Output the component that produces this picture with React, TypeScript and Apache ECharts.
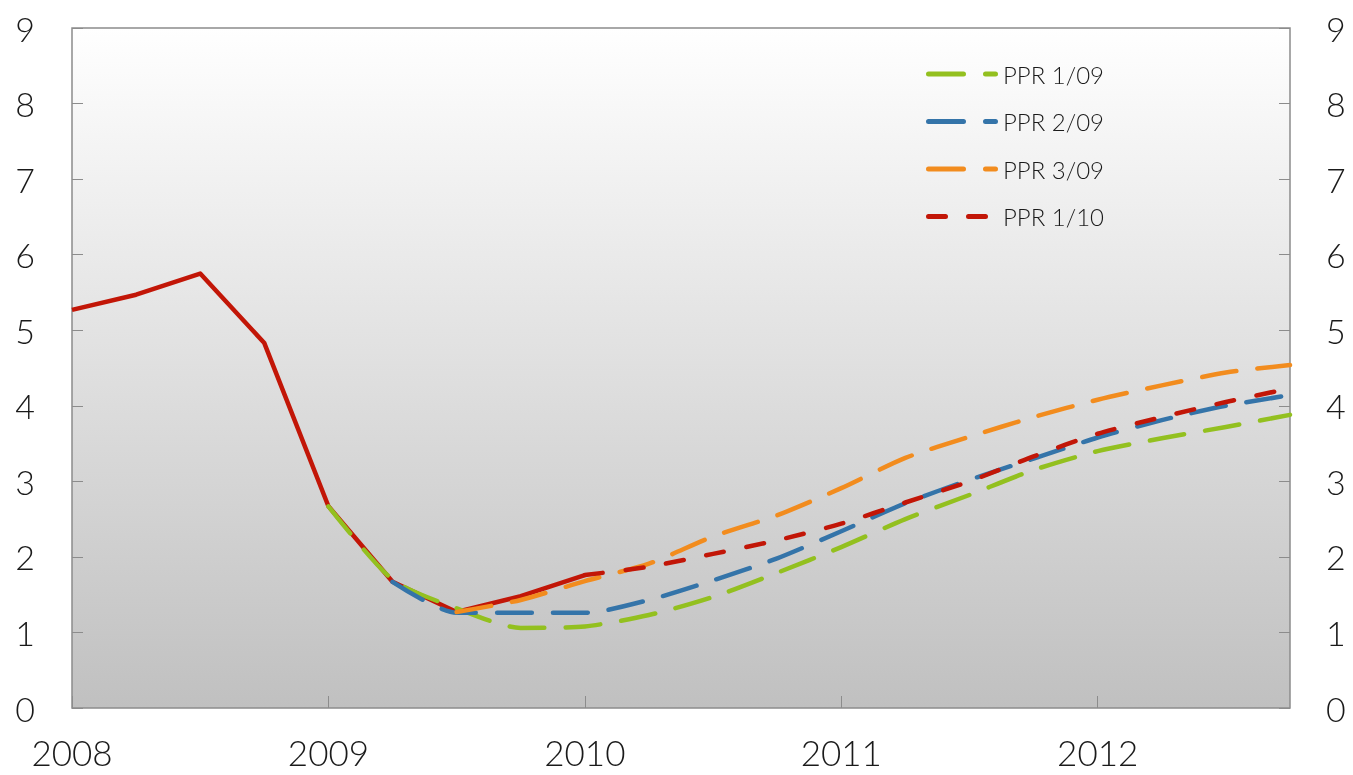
import React, { useEffect, useRef } from "react";
import * as echarts from "echarts";

const quarters = [
  "2008K1", "2008K2", "2008K3", "2008K4",
  "2009K1", "2009K2", "2009K3", "2009K4",
  "2010K1", "2010K2", "2010K3", "2010K4",
  "2011K1", "2011K2", "2011K3", "2011K4",
  "2012K1", "2012K2", "2012K3", "2012K4",
];

const actual = [5.27, 5.47, 5.75, 4.83, 2.67, 1.67, 1.27, 1.48, 1.76, null, null, null, null, null, null, null, null, null, null, null];
const ppr109 = [null, null, null, null, 2.67, 1.7, 1.32, 1.06, 1.08, 1.23, 1.47, 1.79, 2.13, 2.5, 2.82, 3.15, 3.4, 3.57, 3.72, 3.88];
const ppr209 = [null, null, null, null, null, 1.67, 1.26, 1.26, 1.26, 1.43, 1.69, 1.98, 2.34, 2.71, 3.02, 3.3, 3.58, 3.81, 4.0, 4.14];
const ppr309 = [null, null, null, null, null, null, 1.27, 1.43, 1.68, 1.91, 2.27, 2.55, 2.91, 3.31, 3.59, 3.85, 4.08, 4.27, 4.44, 4.54];
const ppr110 = [null, null, null, null, null, null, null, null, 1.76, 1.87, 2.04, 2.22, 2.44, 2.72, 3.0, 3.33, 3.63, 3.85, 4.05, 4.23];

const legendNames = ["PPR 1/09", "PPR 2/09", "PPR 3/09", "PPR 1/10"];

const FONT = "Lato, 'Open Sans', sans-serif";

// legend icons drawn in a 72 x 5 box
const longShortIcon =
  "path://M2.5 0 H37.5 A2.5 2.5 0 0 1 37.5 5 H2.5 A2.5 2.5 0 0 1 2.5 0 Z M59.5 0 H69.5 A2.5 2.5 0 0 1 69.5 5 H59.5 A2.5 2.5 0 0 1 59.5 0 Z";
const shortShortIcon =
  "path://M2.5 0 H19.5 A2.5 2.5 0 0 1 19.5 5 H2.5 A2.5 2.5 0 0 1 2.5 0 Z M42.5 0 H59.5 A2.5 2.5 0 0 1 59.5 5 H42.5 A2.5 2.5 0 0 1 42.5 0 Z M71.95 2.45 H72 V2.5 H71.95 Z";

export default function App() {
  const ref = useRef<HTMLDivElement>(null);
  useEffect(() => {
    if (!ref.current) return;
    const chart = echarts.init(ref.current, undefined, { renderer: "svg" });
    const dashed = (name: string, data: (number | null)[], color: string, dash: number[]) => ({
      name,
      type: "line",
      data,
      symbol: "none",
      smooth: 0.25,
      lineStyle: { color, width: 4.5, type: dash, cap: "round", join: "round" },
      itemStyle: { color },
    });
    const yAxisCommon = {
      type: "value",
      min: 0,
      max: 9,
      interval: 1,
      splitLine: { show: false },
      axisLine: { show: false },
      axisTick: { show: true, inside: true, length: 11, lineStyle: { color: "#8c8c8c", width: 1 } },
    };
    chart.setOption({
      animation: false,
      textStyle: { fontFamily: FONT },
      grid: {
        left: 72,
        right: 63,
        top: 28,
        bottom: 67,
        show: true,
        borderColor: "#8c8c8c",
        borderWidth: 1.5,
        backgroundColor: new echarts.graphic.LinearGradient(0, 0, 0, 1, [
          { offset: 0, color: "#ffffff" },
          { offset: 1, color: "#c0c0c0" },
        ]),
      },
      legend: {
        data: [
          { name: legendNames[0], icon: longShortIcon },
          { name: legendNames[1], icon: longShortIcon },
          { name: legendNames[2], icon: longShortIcon },
          { name: legendNames[3], icon: shortShortIcon },
        ],
        orient: "vertical",
        left: 926,
        top: 62,
        padding: 0,
        itemWidth: 72,
        itemHeight: 5,
        itemGap: 23.5,
        textStyle: { fontSize: 24, color: "#1a1a1a", fontFamily: FONT, fontWeight: 300 },
      },
      xAxis: {
        type: "category",
        data: quarters,
        boundaryGap: false,
        axisLine: { show: false },
        axisTick: { show: true, inside: true, length: 12, interval: 3, lineStyle: { color: "#8c8c8c" } },
        axisLabel: {
          interval: 3,
          margin: 26,
          fontSize: 35,
          color: "#1a1a1a",
          fontFamily: FONT,
          fontWeight: 300,
          formatter: (v: string) => v.slice(0, 4),
        },
        splitLine: { show: false },
      },
      yAxis: [
        {
          ...yAxisCommon,
          position: "left",
          axisLabel: { margin: 37, fontSize: 34, color: "#1a1a1a", fontFamily: FONT, fontWeight: 300 },
        },
        {
          ...yAxisCommon,
          position: "right",
          axisLabel: { margin: 36, fontSize: 34, color: "#1a1a1a", fontFamily: FONT, fontWeight: 300 },
        },
      ],
      series: [
        {
          name: "Styringsrenten",
          type: "line",
          data: actual,
          symbol: "none",
          lineStyle: { color: "#c21607", width: 4.5, join: "round" },
          itemStyle: { color: "#c21607" },
        },
        dashed("PPR 1/09", ppr109, "#93c01f", [35, 21]),
        dashed("PPR 2/09", ppr209, "#3474a9", [35, 21]),
        dashed("PPR 3/09", ppr309, "#f28c1e", [35, 21]),
        dashed("PPR 1/10", ppr110, "#c21607", [18, 23]),
      ],
    });
    return () => chart.dispose();
  }, []);
  return (
    <div
      ref={ref}
      style={{ position: "fixed", left: 0, top: 0, width: 1353, height: 775 }}
    />
  );
}
